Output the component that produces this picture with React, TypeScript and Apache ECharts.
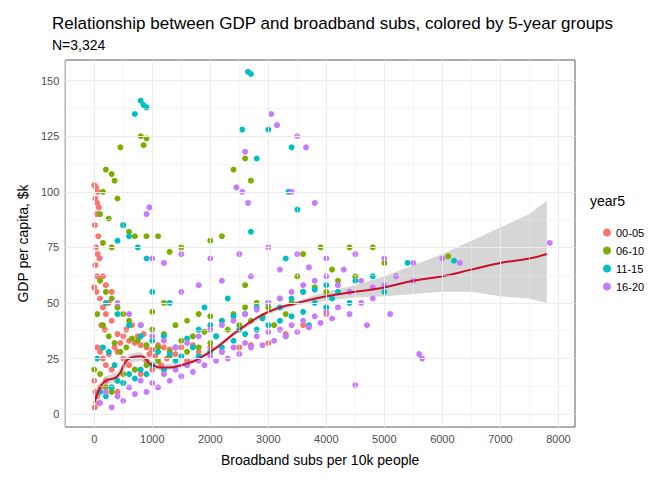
import React, { useEffect, useRef } from "react";
import * as echarts from "echarts";

const groups = ["00-05", "06-10", "11-15", "16-20"];
const colors = ["#F8766D", "#7CAE00", "#00BFC4", "#C77CFF"];

const g0005 = [[0,103],[30,102],[60,100],[20,97],[50,95],[80,93],[40,90],[10,85],[70,80],[30,75],[60,72],[90,70],[20,67],[50,62],[0,57],[40,55],[100,52],[150,48],[200,45],[250,50],[300,42],[120,40],[180,38],[400,36],[500,35],[600,33],[700,32],[800,31],[900,30],[1000,29],[1100,31],[1200,30],[1300,29],[1500,30],[1700,31],[2000,30],[2500,30],[3000,32],[50,30],[100,28],[150,25],[200,22],[300,20],[400,28],[500,25],[600,22],[700,20],[800,18],[900,24],[1000,20],[0,15],[20,10],[50,8],[80,5],[10,3],[100,12],[200,15],[300,12],[400,10],[500,14],[250,27],[350,30],[450,32],[550,38],[650,40],[750,35],[850,36],[950,27],[1050,26],[1150,22],[1250,25],[1400,27],[1600,24],[1800,28],[2200,28],[2700,31],[3300,36],[3600,40],[4000,45],[200,58],[300,55],[150,62]];
const g0610 = [[800,125],[850,121],[900,124],[450,120],[200,110],[300,108],[350,105],[150,100],[400,97],[100,90],[250,88],[500,85],[600,82],[700,80],[150,77],[300,75],[900,80],[1100,80],[1300,73],[1500,75],[2000,78],[2200,80],[2600,115],[2400,110],[2700,105],[3600,72],[3900,75],[4400,75],[4800,75],[6100,71],[100,60],[200,55],[300,52],[400,48],[500,45],[600,42],[800,40],[1000,38],[1200,36],[1400,40],[1600,42],[1800,45],[2000,44],[2200,42],[2400,45],[2600,48],[2800,50],[3000,48],[3200,52],[3400,50],[3600,55],[3800,57],[4000,55],[4200,60],[4500,62],[50,45],[150,40],[250,35],[350,32],[450,28],[550,30],[650,34],[750,33],[900,31],[1100,30],[1300,28],[1500,33],[1700,35],[1900,37],[2100,35],[2300,38],[2500,40],[2700,42],[2900,44],[3100,40],[3300,45],[0,20],[100,18],[200,12],[300,10],[400,15],[500,18],[700,20],[900,22],[1100,24],[1300,26],[1600,28],[1800,30],[2000,32],[3500,62],[4100,65],[5000,68],[1000,46],[1200,50],[2600,58]];
const g1115 = [[800,141],[850,139],[900,138],[700,135],[2650,154],[2700,153],[2550,128],[3000,128],[3400,120],[2800,115],[3350,100],[3500,92],[500,85],[600,80],[750,75],[400,78],[900,70],[2700,82],[3300,70],[5400,68],[6200,69],[200,50],[400,45],[600,40],[800,35],[1000,33],[1200,35],[1400,30],[1600,34],[1800,38],[2000,40],[2200,42],[2400,44],[2600,45],[2800,48],[3000,50],[3200,48],[3400,52],[3600,55],[3800,56],[4000,58],[4200,55],[4500,60],[4800,62],[100,10],[200,8],[300,12],[400,15],[500,14],[600,18],[700,16],[800,20],[900,18],[1000,22],[1200,20],[1400,24],[1600,22],[1800,26],[2000,28],[2200,30],[2400,33],[2600,36],[2800,38],[3000,40],[3200,42],[3400,44],[3600,46],[3800,50],[4000,48],[50,25],[150,30],[250,28],[350,22],[1100,28],[1300,27],[1500,26],[1700,30],[2100,35],[2500,38],[2900,43],[3300,35],[3700,40],[4100,52],[4400,50],[5000,55],[1000,55],[1300,50],[1900,48],[2300,52]];
const g1620 = [[3050,135],[3150,130],[3500,125],[3650,120],[2600,118],[2550,100],[2450,102],[950,93],[900,90],[2650,95],[3800,95],[3400,100],[1000,70],[1200,68],[1500,72],[2000,70],[2500,72],[3000,75],[3500,72],[4000,70],[4500,72],[5000,70],[5500,68],[6000,70],[6300,68],[7850,77],[5600,27],[5650,25],[4500,13],[400,50],[600,45],[800,40],[1000,35],[1200,33],[1400,30],[1600,32],[1800,35],[2000,38],[2200,40],[2400,42],[2600,45],[2800,47],[3000,50],[3200,52],[3400,55],[3600,58],[3800,60],[4000,62],[4200,58],[4400,55],[4600,60],[4800,57],[5000,58],[5200,62],[5500,60],[200,10],[400,8],[600,12],[800,15],[1000,14],[1200,18],[1400,20],[1600,22],[1800,24],[2000,26],[2200,28],[2400,30],[2600,32],[2800,35],[3000,37],[3200,38],[3400,40],[3600,42],[3800,44],[4000,46],[4200,48],[4400,45],[4600,50],[4800,52],[100,5],[300,3],[500,6],[700,9],[900,10],[1100,12],[1300,15],[1500,17],[1700,19],[1900,22],[2100,24],[2300,25],[2500,27],[2700,30],[2900,31],[3100,33],[3300,35],[3500,37],[3700,39],[3900,41],[4100,43],[1800,58],[2200,60],[2700,62],[3200,65],[3700,66],[4300,65],[1500,55],[4700,40],[5100,45]];
const groupData = [g0005, g0610, g1115, g1620];

const smoothX = [0, 100, 200, 400, 600, 800, 1000, 1200, 1500, 2000, 2500, 3000, 3500, 4000, 4500, 5000, 5500, 6000, 6500, 7000, 7500, 7800];
const smoothY = [5, 12, 15, 17, 25, 26, 22, 21, 22, 28, 38, 46, 50, 53, 55, 57, 60, 62, 65, 68, 70, 72];
const bandLo = [2, 10, 13, 15, 23, 24, 20.5, 19.5, 21, 27, 37, 45, 49, 51, 52.5, 53, 54, 55, 55, 53, 52, 50];
const bandHi = [8, 14, 17, 19, 27, 28, 23.5, 22.5, 23, 29, 39, 47, 51, 55, 58, 62, 67, 72, 78, 84, 90, 96];

const xMajor = [0, 1000, 2000, 3000, 4000, 5000, 6000, 7000, 8000];
const xMinor = [-500, 500, 1500, 2500, 3500, 4500, 5500, 6500, 7500];
const yMajor = [0, 25, 50, 75, 100, 125, 150];
const yMinor = [12.5, 37.5, 62.5, 87.5, 112.5, 137.5];

export default function App() {
  const ref = useRef<HTMLDivElement>(null);
  useEffect(() => {
    const chart = echarts.init(ref.current!, null, { renderer: "svg" });
    const gl = (axis: string, vals: number[], w: number) =>
      vals.map((v) => ({ [axis]: v, lineStyle: { color: "#ebebeb", width: w, type: "solid" } }));
    const font = "Liberation Sans, Arial, sans-serif";
    chart.setOption({
      animation: false,
      textStyle: { fontFamily: font },
      title: {
        text: "Relationship between GDP and broadband subs, colored by 5-year groups",
        subtext: "N=3,324",
        left: 39, top: 2,
        textStyle: { fontSize: 17, fontWeight: "normal", color: "#000" },
        subtextStyle: { fontSize: 14, color: "#000" },
        itemGap: 6,
      },
      grid: { left: 39, right: 89, top: 52, bottom: 40, show: true, borderColor: "#333", borderWidth: 0.8, backgroundColor: "#fff" },
      xAxis: {
        type: "value", min: -500, max: 8286,
        name: "Broadband subs per 10k people", nameLocation: "middle", nameGap: 26,
        nameTextStyle: { fontSize: 14, color: "#000" },
        axisLine: { show: false },
        axisTick: { show: true, customValues: xMajor, lineStyle: { color: "#333" }, length: 4 },
        axisLabel: { customValues: xMajor, color: "#4d4d4d", fontSize: 11, margin: 6, formatter: (v: number) => String(v) },
        splitLine: { show: false },
      },
      yAxis: {
        type: "value", min: -5.8, max: 159.3,
        name: "GDP per capita, $k", nameLocation: "middle", nameGap: 26,
        nameTextStyle: { fontSize: 14, color: "#000" },
        axisLine: { show: false },
        axisTick: { show: true, customValues: yMajor, lineStyle: { color: "#333" }, length: 4 },
        axisLabel: { customValues: yMajor, color: "#4d4d4d", fontSize: 11, margin: 6, formatter: (v: number) => String(v) },
        splitLine: { show: false },
      },
      legend: {
        data: groups, orient: "vertical", left: 590, top: 214, itemGap: 7,
        icon: "circle", itemWidth: 8, itemHeight: 8,
        textStyle: { fontSize: 11, color: "#000" },
      },
      graphic: [{ type: "text", left: 582, top: 186, style: { text: "year5", fontSize: 14, fill: "#000", fontFamily: font } }],
      series: [
        {
          type: "line", data: [], silent: true,
          markLine: {
            silent: true, symbol: "none", label: { show: false },
            data: [...gl("xAxis", xMinor, 0.5), ...gl("yAxis", yMinor, 0.5), ...gl("xAxis", xMajor, 1), ...gl("yAxis", yMajor, 1)],
          },
        },
        ...groups.map((g, i) => ({
          name: g, type: "scatter", data: groupData[i], symbolSize: 6,
          itemStyle: { color: colors[i], opacity: 1 },
        })),
        {
          type: "custom", silent: true, data: [[0, 0]],
          renderItem: (_p: any, api: any) => {
            const up = smoothX.map((x, i) => api.coord([x, bandHi[i]]));
            const lo = smoothX.map((x, i) => api.coord([x, bandLo[i]])).reverse();
            return { type: "polygon", shape: { points: [...up, ...lo] }, style: { fill: "rgba(153,153,153,0.4)" } };
          },
        },
        {
          type: "line", data: smoothX.map((x, i) => [x, smoothY[i]]), smooth: true,
          showSymbol: false, lineStyle: { color: "#C8102E", width: 2 }, silent: true,
        },
      ],
    });
    return () => chart.dispose();
  }, []);
  return <div ref={ref} style={{ width: 656, height: 464 }} />;
}
